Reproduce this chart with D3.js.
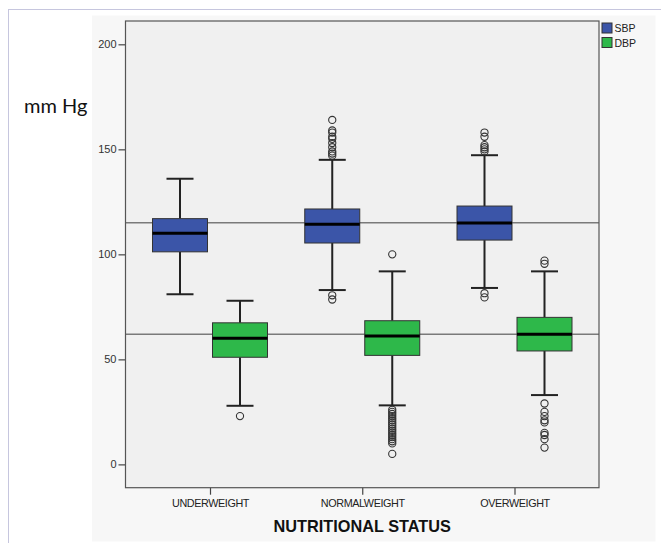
<!DOCTYPE html>
<html>
<head>
<meta charset="utf-8">
<script src="https://cdn.jsdelivr.net/npm/d3@7"></script>
<style>
  body { margin: 0; background: #fff; }
  svg { display: block; }
</style>
</head>
<body>
<svg id="chart" width="661" height="543"></svg>
<script>
(function() {
  // categories and series
  const categories = ["UNDERWEIGHT", "NORMALWEIGHT", "OVERWEIGHT"];
  const series = ["SBP", "DBP"];

  // SBP box stats per category
  const sbpLow = [81, 83, 84];
  const sbpQ1 = [101.2, 105.4, 106.8];
  const sbpMedian = [110, 114.3, 114.9];
  const sbpQ3 = [117, 121.6, 123];
  const sbpHigh = [136, 145, 147.2];
  const sbpOutliers = [
    [],
    [164, 159, 158, 156, 155, 153, 151, 149, 148, 147, 80.5, 78.5],
    [158, 156, 152, 151, 150, 149, 81.5, 79.5]
  ];

  // DBP box stats per category
  const dbpLow = [27.9, 28.1, 33];
  const dbpQ1 = [51, 51.9, 54];
  const dbpMedian = [60, 61.1, 61.9];
  const dbpQ3 = [67.4, 68.4, 70];
  const dbpHigh = [77.9, 91.9, 91.9];
  const dbpOutliers = [
    [23],
    [100, 26, 25, 24, 23, 22, 21, 20, 19, 18, 17, 16, 15, 14, 13, 12, 11, 10, 5],
    [97, 95.5, 29, 25, 23, 21, 20, 15, 14, 12, 8]
  ];

  const refLines = [115, 62];
  const yTicks = [0, 50, 100, 150, 200];

  const INK = "#222";
  const colors = { SBP: "#3b55a8", DBP: "#2eb84a" };

  const boxes = [];
  categories.forEach((c, i) => {
    boxes.push({ cat: c, s: "SBP", lo: sbpLow[i], q1: sbpQ1[i], med: sbpMedian[i], q3: sbpQ3[i], hi: sbpHigh[i], out: sbpOutliers[i] });
    boxes.push({ cat: c, s: "DBP", lo: dbpLow[i], q1: dbpQ1[i], med: dbpMedian[i], q3: dbpQ3[i], hi: dbpHigh[i], out: dbpOutliers[i] });
  });

  const svg = d3.select("#chart");

  // outer frame and panel
  svg.append("rect")
    .attr("x", 8.5).attr("y", 9.5).attr("width", 700).attr("height", 600)
    .attr("fill", "#fff").attr("stroke", "#c6c6de");
  svg.append("rect")
    .attr("x", 92).attr("y", 15.5).attr("width", 563.5).attr("height", 526)
    .attr("fill", "#f7f7f7");

  const plot = { left: 125.5, top: 21, right: 599, bottom: 487.7 };

  const x = d3.scalePoint()
    .domain(categories)
    .range([plot.left, plot.right])
    .padding(0.555);

  const xs = d3.scaleBand()
    .domain(series)
    .range([-60, 60]);

  const y = d3.scaleLinear()
    .domain([-11.1, 211.1])
    .range([plot.bottom, plot.top]);

  svg.append("rect")
    .attr("x", plot.left).attr("y", plot.top)
    .attr("width", plot.right - plot.left).attr("height", plot.bottom - plot.top)
    .attr("fill", "#f0f0f0");

  // axes
  const yAxis = svg.append("g")
    .attr("transform", `translate(${plot.left},0)`)
    .call(d3.axisLeft(y).tickValues(yTicks).tickSize(7).tickPadding(2));
  yAxis.select(".domain").remove();
  yAxis.selectAll("line").attr("stroke", "#444").attr("stroke-width", 1.2);
  yAxis.selectAll("text")
    .attr("font-family", "Liberation Sans, Arial, sans-serif")
    .attr("font-size", 11).attr("fill", "#333");

  const xAxis = svg.append("g")
    .attr("transform", `translate(0,${plot.bottom})`)
    .call(d3.axisBottom(x).tickSize(7).tickPadding(5));
  xAxis.select(".domain").remove();
  xAxis.selectAll("line").attr("stroke", "#444").attr("stroke-width", 1.2);
  xAxis.selectAll("text")
    .attr("font-family", "Liberation Sans, Arial, sans-serif")
    .attr("font-size", 10.8).attr("fill", "#222")
    .attr("letter-spacing", -0.4);

  // reference lines
  svg.selectAll(".ref")
    .data(refLines)
    .join("line")
    .attr("x1", plot.left).attr("x2", plot.right)
    .attr("y1", d => y(d)).attr("y2", d => y(d))
    .attr("stroke", "#7a7a7a").attr("stroke-width", 1.5);

  // boxes
  const g = svg.selectAll(".box")
    .data(boxes)
    .join("g")
    .attr("class", "box")
    .attr("transform", d => `translate(${x(d.cat) + xs(d.s) + xs.bandwidth() / 2},0)`);

  const bw = 55;
  const cap = 27;

  g.append("line")
    .attr("y1", d => y(d.hi)).attr("y2", d => y(d.q3))
    .attr("stroke", INK).attr("stroke-width", 2);
  g.append("line")
    .attr("y1", d => y(d.q1)).attr("y2", d => y(d.lo))
    .attr("stroke", INK).attr("stroke-width", 2);
  g.append("line")
    .attr("x1", -cap / 2).attr("x2", cap / 2)
    .attr("y1", d => y(d.hi)).attr("y2", d => y(d.hi))
    .attr("stroke", INK).attr("stroke-width", 2);
  g.append("line")
    .attr("x1", -cap / 2).attr("x2", cap / 2)
    .attr("y1", d => y(d.lo)).attr("y2", d => y(d.lo))
    .attr("stroke", INK).attr("stroke-width", 2);
  g.append("rect")
    .attr("x", -bw / 2).attr("width", bw)
    .attr("y", d => y(d.q3)).attr("height", d => y(d.q1) - y(d.q3))
    .attr("fill", d => colors[d.s])
    .attr("stroke", "#333").attr("stroke-width", 1);
  g.append("line")
    .attr("x1", -bw / 2).attr("x2", bw / 2)
    .attr("y1", d => y(d.med)).attr("y2", d => y(d.med))
    .attr("stroke", "#000").attr("stroke-width", 3);

  g.selectAll("circle")
    .data(d => d.out)
    .join("circle")
    .attr("cy", d => y(d))
    .attr("r", 3.6)
    .attr("fill", "none")
    .attr("stroke", "#333").attr("stroke-width", 1.1);

  // plot border on top
  svg.append("rect")
    .attr("x", plot.left).attr("y", plot.top)
    .attr("width", plot.right - plot.left).attr("height", plot.bottom - plot.top)
    .attr("fill", "none").attr("stroke", "#555").attr("stroke-width", 1.2);

  // legend
  const lg = svg.selectAll(".legend")
    .data(series)
    .join("g")
    .attr("transform", (d, i) => `translate(602,${23 + i * 14.5})`);
  lg.append("rect")
    .attr("width", 10).attr("height", 10)
    .attr("fill", d => colors[d]).attr("stroke", "#333");
  lg.append("text")
    .attr("x", 12.5).attr("y", 9)
    .attr("font-family", "Liberation Sans, Arial, sans-serif")
    .attr("font-size", 10.5).attr("fill", "#222")
    .text(d => d);

  // titles
  svg.append("text")
    .attr("x", 24).attr("y", 113)
    .attr("font-family", "Lato, sans-serif")
    .attr("font-size", 20).attr("fill", "#111")
    .text("mm Hg");

  svg.append("text")
    .attr("x", (plot.left + plot.right) / 2).attr("y", 532)
    .attr("text-anchor", "middle")
    .attr("font-family", "Liberation Sans, Arial, sans-serif")
    .attr("font-weight", "bold")
    .attr("font-size", 16.3).attr("fill", "#111")
    .text("NUTRITIONAL STATUS");
})();
</script>
</body>
</html>
